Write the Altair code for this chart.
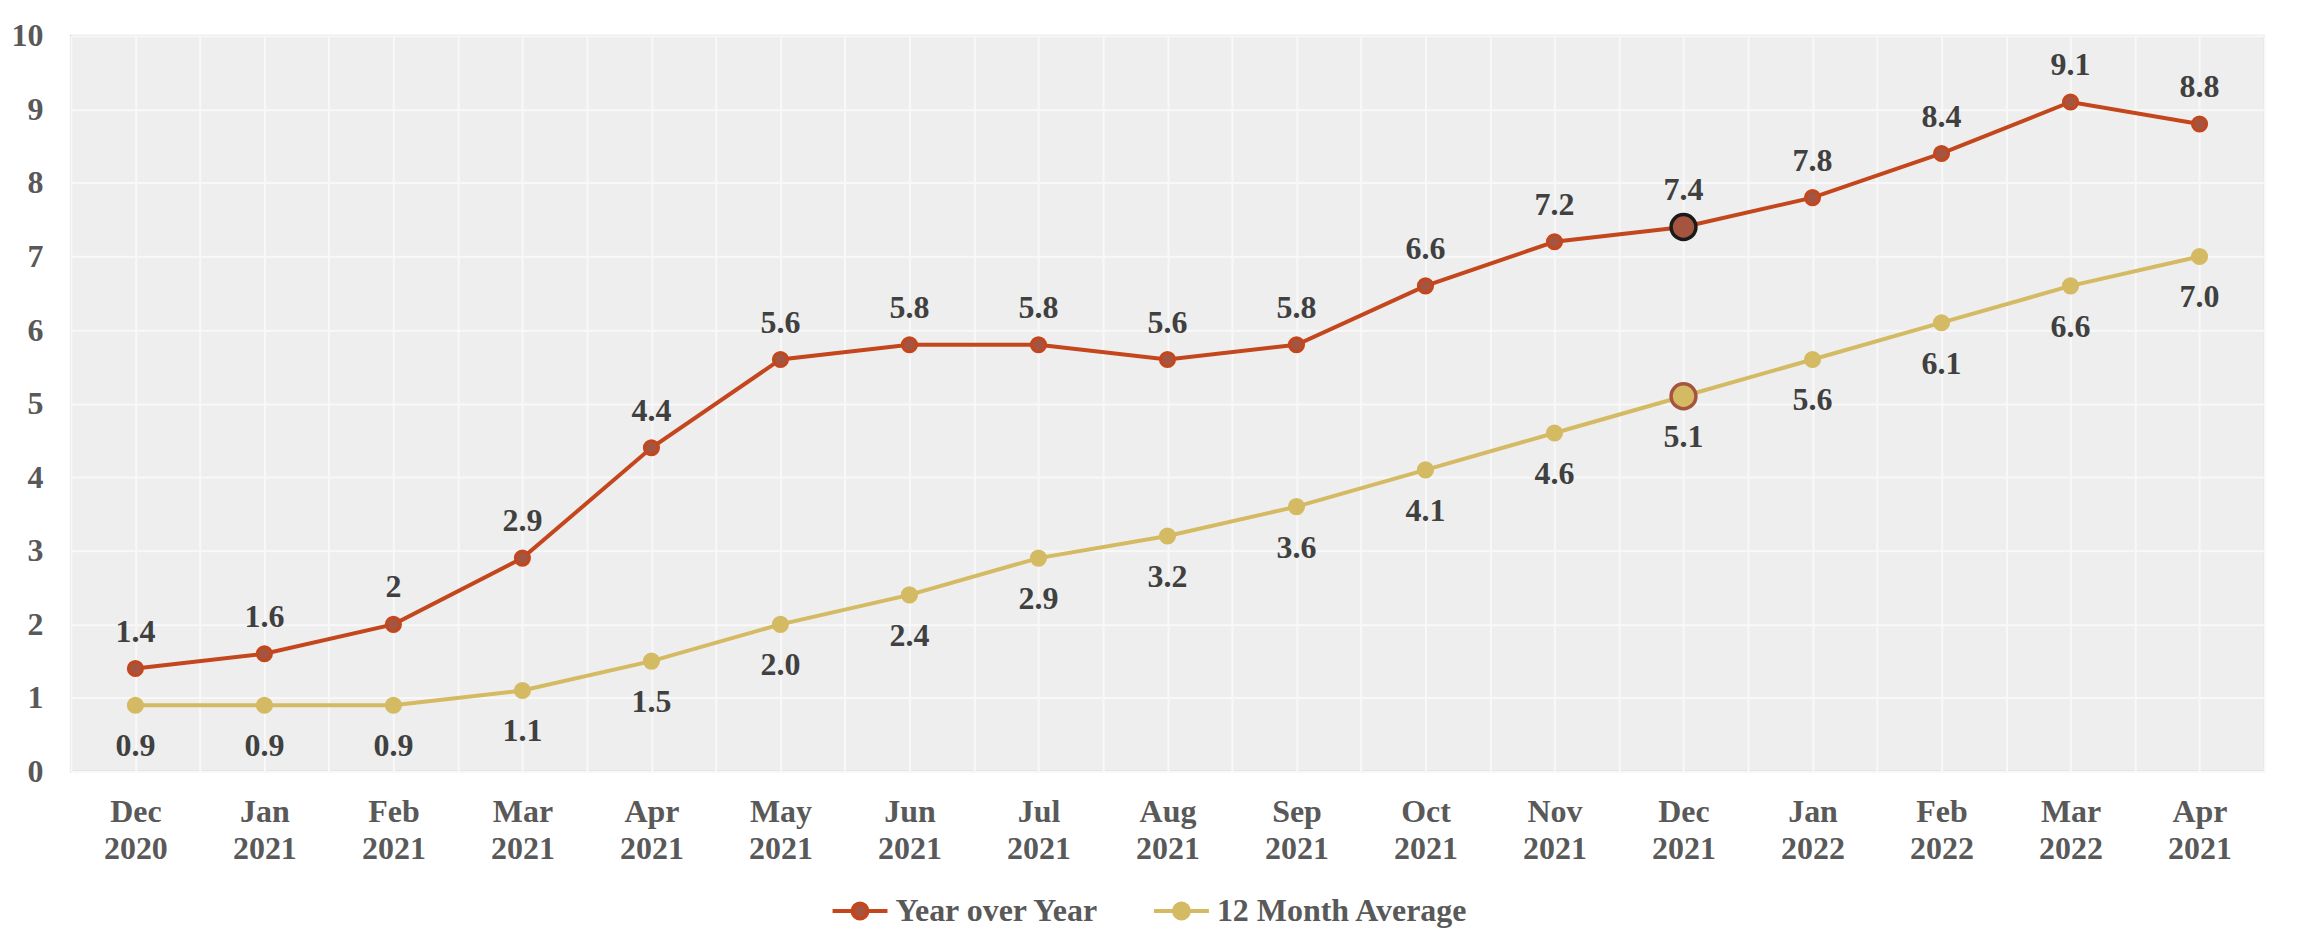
import altair as alt
import pandas as pd

# ---- data ----
months = ["Dec|2020", "Jan|2021", "Feb|2021", "Mar|2021", "Apr|2021", "May|2021",
          "Jun|2021", "Jul|2021", "Aug|2021", "Sep|2021", "Oct|2021", "Nov|2021",
          "Dec|2021", "Jan|2022", "Feb|2022", "Mar|2022", "Apr|2021"]
yoy = [1.4, 1.6, 2.0, 2.9, 4.4, 5.6, 5.8, 5.8, 5.6, 5.8, 6.6, 7.2, 7.4, 7.8, 8.4, 9.1, 8.8]
avg12 = [0.9, 0.9, 0.9, 1.1, 1.5, 2.0, 2.4, 2.9, 3.2, 3.6, 4.1, 4.6, 5.1, 5.6, 6.1, 6.6, 7.0]
series_names = ["Year over Year", "12 Month Average"]
highlight_idx = 12  # Dec 2021
y_ticks = list(range(0, 11))

rows = []
for i, m in enumerate(months):
    rows.append({"idx": i, "month": m, "series": series_names[0], "value": yoy[i],
                 "label": f"{yoy[i]:g}"})
    rows.append({"idx": i, "month": m, "series": series_names[1], "value": avg12[i],
                 "label": f"{avg12[i]:.1f}"})
df = pd.DataFrame(rows)

FONT = "Liberation Serif"
AXIS_GRAY = "#595959"
LABEL_DARK = "#404040"
line_colors = ["#C4461C", "#D4BA63"]
marker_fills = ["#A5553F", "#D4BA63"]
GRID = "#f8f8f8"

label_array = "[" + ",".join(f"'{m}'" for m in months) + "]"
x_values = [-0.5 + 0.5 * k for k in range(2 * len(months) + 1)]

x_enc = alt.X("idx:Q",
              scale=alt.Scale(domain=[-0.5, len(months) - 0.5], nice=False, zero=False),
              axis=alt.Axis(values=x_values, grid=True, ticks=False, domain=False,
                            labelExpr=f"datum.value % 1 === 0 ? split({label_array}[datum.value], '|') : ''",
                            labelFont=FONT, labelFontSize=32, labelFontWeight="bold",
                            labelColor=AXIS_GRAY, labelPadding=25, labelLineHeight=37,
                            labelOverlap=False, labelFlush=False, labelBound=False,
                            gridColor=GRID, gridWidth=2, title=None))
y_enc = alt.Y("value:Q",
              scale=alt.Scale(domain=[0, 10], nice=False),
              axis=alt.Axis(values=y_ticks, grid=True, ticks=False, domain=False,
                            labelFont=FONT, labelFontSize=32, labelFontWeight="bold",
                            labelColor=AXIS_GRAY, labelPadding=28,
                            gridColor=GRID, gridWidth=2, title=None))

stroke_scale = alt.Scale(domain=series_names, range=line_colors)
fill_scale = alt.Scale(domain=series_names, range=marker_fills)

legend_symbol = ("M -1 0 L -0.27 0 M 0.27 0 L 1 0 "
                 "M -0.27 0 A 0.27 0.27 0 1 1 0.27 0 A 0.27 0.27 0 1 1 -0.27 0 Z")
legend = alt.Legend(title=None, orient="none", direction="horizontal",
                    legendX=761, legendY=847, symbolType=legend_symbol,
                    symbolSize=3025, symbolStrokeWidth=4, labelOffset=6,
                    labelFont=FONT, labelFontSize=32, labelFontWeight="bold",
                    labelColor=AXIS_GRAY, labelLimit=0, columnPadding=46, padding=0)

base = alt.Chart(df)

lines = base.mark_line(interpolate="linear", strokeWidth=4).encode(
    x=x_enc, y=y_enc,
    stroke=alt.Stroke("series:N", scale=stroke_scale, legend=legend),
    detail="series:N",
)

points = base.mark_point(filled=True, size=200, strokeWidth=3, opacity=1).encode(
    x=x_enc, y=y_enc,
    stroke=alt.Stroke("series:N", scale=stroke_scale, legend=legend),
    fill=alt.Fill("series:N", scale=fill_scale, legend=legend),
)

hl = base.transform_filter(alt.datum.idx == highlight_idx).mark_point(
    filled=True, size=620, strokeWidth=3.5, opacity=1).encode(
    x=x_enc, y=y_enc,
    fill=alt.Fill("series:N", scale=fill_scale, legend=None),
    stroke=alt.condition(alt.datum.series == series_names[0],
                         alt.value("#1a1a1a"), alt.value("#A5553F")),
)

text_yoy = base.transform_filter(alt.datum.series == series_names[0]).mark_text(
    font=FONT, fontSize=32, fontWeight="bold", color=LABEL_DARK,
    baseline="alphabetic", dy=-27).encode(x=x_enc, y=y_enc, text="label:N")

text_avg = base.transform_filter(alt.datum.series == series_names[1]).mark_text(
    font=FONT, fontSize=32, fontWeight="bold", color=LABEL_DARK,
    baseline="alphabetic", dy=51).encode(x=x_enc, y=y_enc, text="label:N")

chart = alt.layer(lines, points, hl, text_yoy, text_avg).properties(
    width=2197, height=737,
    autosize=alt.AutoSizeParams(type="none"),
    padding={"left": 63, "top": 27, "right": 30, "bottom": 160},
    background="white",
).configure_view(
    fill="#eeeeee", stroke="#dcdcdc", strokeWidth=2,
)

chart.save("out.html", embed_options={"renderer": "svg", "actions": False})
